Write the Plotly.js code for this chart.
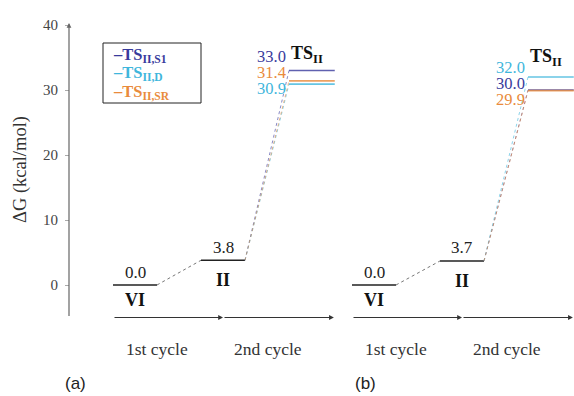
<!DOCTYPE html>
<html>
<head>
<meta charset="utf-8">
<script src="https://cdn.plot.ly/plotly-3.0.1.min.js"></script>
<style>html,body{margin:0;padding:0;background:#fff;}#chart{width:574px;height:396px;}</style>
</head>
<body>
<div id="chart"></div>
<script>
// ---------------- data ----------------
const stepLabels = ['VI', 'II', 'TS<sub>II</sub>'];
const cycleLabels = ['1st cycle', '2nd cycle'];
const panelLabels = ['(a)', '(b)'];
const seriesNames = ['TS<sub>II,S1</sub>', 'TS<sub>II,D</sub>', 'TS<sub>II,SR</sub>'];
const panelAIntermediates = [0.0, 3.8];      // VI, II
const panelATS = [33.0, 30.9, 31.4];         // S1, D, SR
const panelBIntermediates = [0.0, 3.7];      // VI, II
const panelBTS = [30.0, 32.0, 29.9];         // S1, D, SR
const yTicks = [0, 10, 20, 30, 40];
const yTitle = 'ΔG (kcal/mol)';

// ---------------- style ----------------
const seriesColors = ['#383a9c', '#3fb6dc', '#e98b3c'];
const serif = '"Liberation Serif", "DejaVu Serif", serif';
const sans = '"Liberation Sans", Arial, sans-serif';
const panelOffset = [0, 239 / 88];
const panelLabelX = [75, 365];
const halfW = 0.25;
const axisX = -0.75;
const baseY = -5;
const labelShift = [14, 10];
const tsLabelShift = [16, 20];

const panels = [
  {inter: panelAIntermediates, ts: panelATS},
  {inter: panelBIntermediates, ts: panelBTS}
];

const traces = [];
const annotations = [];
const shapes = [];

panels.forEach((p, pi) => {
  const off = panelOffset[pi];
  // intermediate levels
  p.inter.forEach((e, i) => {
    const c = off + i;
    traces.push({x: [c - halfW, c + halfW], y: [e, e], mode: 'lines',
      line: {color: '#222', width: 1.5}, hoverinfo: 'skip'});
    annotations.push({x: c, y: e, text: e.toFixed(1), showarrow: false, yshift: 13,
      font: {family: serif, size: 17, color: '#222'}});
    annotations.push({x: c, y: e, text: '<b>' + stepLabels[i] + '</b>', showarrow: false,
      yshift: i === 0 ? -15 : -20, font: {family: serif, size: 18, color: '#111'}});
  });
  // connector VI -> II
  traces.push({x: [off + halfW, off + 1 - halfW], y: [p.inter[0], p.inter[1]], mode: 'lines',
    line: {color: '#777', width: 1, dash: 'dot'}, hoverinfo: 'skip'});
  // TS levels and connectors
  const cTS = off + 2;
  p.ts.forEach((v, si) => {
    traces.push({x: [off + 1 + halfW, cTS - halfW], y: [p.inter[1], v], mode: 'lines',
      line: {color: seriesColors[si], width: 1, dash: 'dot'}, opacity: 0.6, hoverinfo: 'skip'});
  });
  p.ts.forEach((v, si) => {
    traces.push({x: [cTS - halfW, cTS + halfW + 0.02], y: [v, v], mode: 'lines',
      line: {color: seriesColors[si], width: 1.6}, opacity: 0.8, hoverinfo: 'skip'});
  });
  // stacked value labels, sorted descending
  const order = p.ts.map((v, i) => i).sort((a, b) => p.ts[b] - p.ts[a]);
  const top = p.ts[order[0]];
  order.forEach((si, k) => {
    annotations.push({x: cTS - halfW - 0.01, y: top, xanchor: 'right', text: p.ts[si].toFixed(1),
      showarrow: false, yshift: labelShift[pi] - 16 * k,
      font: {family: serif, size: 16.5, color: seriesColors[si]}});
  });
  annotations.push({x: cTS - 0.05, y: top, text: '<b>' + stepLabels[2] + '</b>', showarrow: false,
    yshift: tsLabelShift[pi], font: {family: serif, size: 18, color: '#111'}});
  // bottom arrows
  annotations.push({x: off + 1, y: baseY, ax: off - halfW, ay: baseY, axref: 'x', ayref: 'y',
    text: '', showarrow: true, arrowhead: 2, arrowsize: 0.8, arrowwidth: 1.2, arrowcolor: '#333'});
  annotations.push({x: off + 2 + halfW + 0.01, y: baseY, ax: off + 1, ay: baseY, axref: 'x', ayref: 'y',
    text: '', showarrow: true, arrowhead: 2, arrowsize: 0.8, arrowwidth: 1.2, arrowcolor: '#333'});
  // cycle labels
  annotations.push({x: off + 0.25, y: -9.85, text: cycleLabels[0], showarrow: false,
    font: {family: serif, size: 17.5, color: '#333'}});
  annotations.push({x: off + 1.51, y: -9.85, text: cycleLabels[1], showarrow: false,
    font: {family: serif, size: 17.5, color: '#333'}});
  annotations.push({xref: 'paper', yref: 'paper', x: panelLabelX[pi] / 574, y: 1 - 383 / 396,
    xanchor: 'center', yanchor: 'middle',
    text: panelLabels[pi], showarrow: false, font: {family: sans, size: 17, color: '#222'}});
});

// y axis line with arrow
annotations.push({x: axisX, y: 40.3, ax: axisX, ay: baseY, axref: 'x', ayref: 'y', text: '',
  showarrow: true, arrowhead: 2, arrowsize: 0.8, arrowwidth: 1.2, arrowcolor: '#666'});
// y title
annotations.push({xref: 'paper', yref: 'paper', x: 20 / 574, y: 1 - 170 / 396, text: yTitle,
  xanchor: 'center', yanchor: 'middle',
  textangle: -90, showarrow: false, font: {family: serif, size: 18.5, color: '#333'}});
// legend box
shapes.push({type: 'rect', xref: 'paper', yref: 'paper', x0: 103 / 574, x1: 201 / 574,
  y0: 1 - 103 / 396, y1: 1 - 43 / 396, line: {color: '#222', width: 1}, fillcolor: 'rgba(0,0,0,0)'});
seriesNames.forEach((n, i) => {
  annotations.push({xref: 'paper', yref: 'paper', x: 111 / 574, y: 1 - (55 + 18.5 * i) / 396,
    xanchor: 'left', yanchor: 'middle', showarrow: false,
    text: '<b>–' + n + '</b>', font: {family: serif, size: 16.5, color: seriesColors[i]}});
});

const layout = {
  width: 574, height: 396,
  margin: {l: 0, r: 0, t: 0, b: 0},
  paper_bgcolor: '#fff', plot_bgcolor: '#fff',
  showlegend: false,
  xaxis: {range: [-135 / 88, 439 / 88], visible: false, fixedrange: true},
  yaxis: {range: [(285 - 396) / 6.5, 285 / 6.5], anchor: 'free', position: 69 / 574,
    tickvals: yTicks, ticktext: yTicks.map(String), ticks: 'outside', ticklen: 4, tickcolor: '#aaa',
    ticklabelstandoff: 4,
    showline: false, showgrid: false, zeroline: false, fixedrange: true,
    tickfont: {family: serif, size: 15, color: '#444'}},
  shapes: shapes,
  annotations: annotations
};

Plotly.newPlot('chart', traces, layout, {staticPlot: true});
</script>
</body>
</html>
